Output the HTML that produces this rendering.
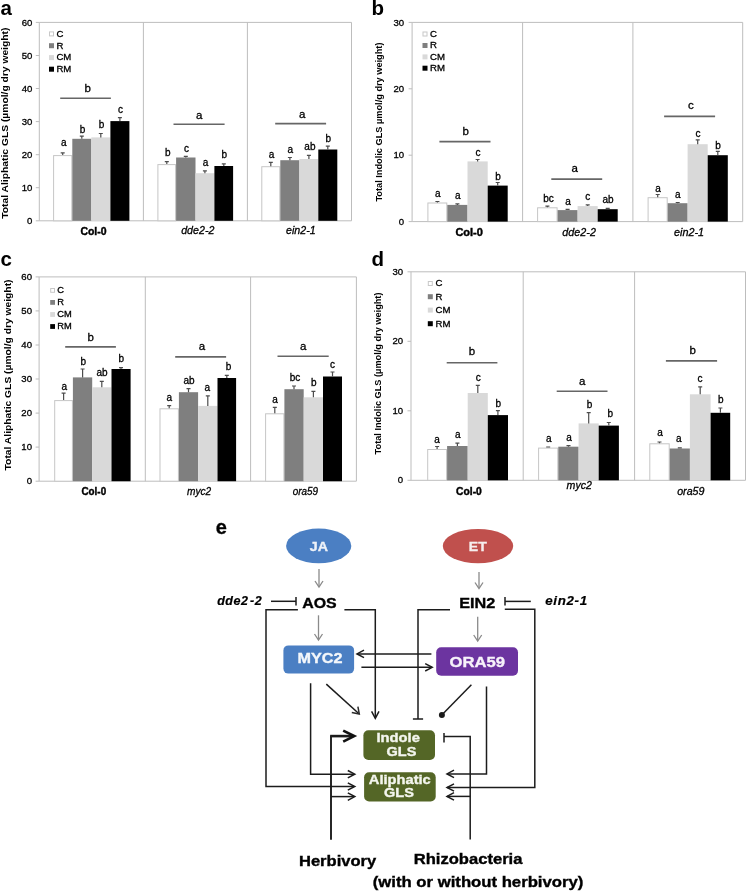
<!DOCTYPE html><html><head><meta charset="utf-8"><title>Figure</title><style>html,body{margin:0;padding:0;background:#fff;}body{width:746px;height:891px;overflow:hidden;}svg{display:block;will-change:transform;}text{font-family:"Liberation Sans",sans-serif;}</style></head><body>
<svg width="746" height="891" viewBox="0 0 746 891">
<rect width="746" height="891" fill="#fff"/>
<path d="M39.3,22.4H351.5V220.8H39.3Z" fill="none" stroke="#bdbdbd" stroke-width="1"/>
<path d="M143.4,22.4V220.8" stroke="#bdbdbd" stroke-width="1"/>
<path d="M247.4,22.4V220.8" stroke="#bdbdbd" stroke-width="1"/>
<path d="M35.8,220.8H39.3" stroke="#bdbdbd" stroke-width="1"/>
<text x="32.3" y="223.9" font-size="9.6" text-anchor="end" fill="#000" stroke="#000" stroke-width="0.3">0</text>
<path d="M35.8,187.7H39.3" stroke="#bdbdbd" stroke-width="1"/>
<text x="32.3" y="190.8" font-size="9.6" text-anchor="end" fill="#000" stroke="#000" stroke-width="0.3">10</text>
<path d="M35.8,154.7H39.3" stroke="#bdbdbd" stroke-width="1"/>
<text x="32.3" y="157.8" font-size="9.6" text-anchor="end" fill="#000" stroke="#000" stroke-width="0.3">20</text>
<path d="M35.8,121.6H39.3" stroke="#bdbdbd" stroke-width="1"/>
<text x="32.3" y="124.7" font-size="9.6" text-anchor="end" fill="#000" stroke="#000" stroke-width="0.3">30</text>
<path d="M35.8,88.5H39.3" stroke="#bdbdbd" stroke-width="1"/>
<text x="32.3" y="91.6" font-size="9.6" text-anchor="end" fill="#000" stroke="#000" stroke-width="0.3">40</text>
<path d="M35.8,55.5H39.3" stroke="#bdbdbd" stroke-width="1"/>
<text x="32.3" y="58.6" font-size="9.6" text-anchor="end" fill="#000" stroke="#000" stroke-width="0.3">50</text>
<path d="M35.8,22.4H39.3" stroke="#bdbdbd" stroke-width="1"/>
<text x="32.3" y="25.5" font-size="9.6" text-anchor="end" fill="#000" stroke="#000" stroke-width="0.3">60</text>
<rect x="53.6" y="155.6" width="18.2" height="65.2" fill="#fff" stroke="#c6c6c6" stroke-width="1"/>
<rect x="72.3" y="138.8" width="19.00" height="82.0" fill="#7f7f7f"/>
<rect x="91.3" y="137.4" width="19.10" height="83.4" fill="#d9d9d9"/>
<rect x="110.4" y="121.1" width="19.00" height="99.7" fill="#000000"/>
<path d="M62.7,155.1V152.8M60.7,152.8H64.7" stroke="#4d4d4d" stroke-width="1.2"/>
<text x="63.9" y="145.6" font-size="10" text-anchor="middle" fill="#000" stroke="#000" stroke-width="0.3">a</text>
<path d="M81.8,138.8V136.2M79.8,136.2H83.8" stroke="#4d4d4d" stroke-width="1.2"/>
<text x="82.6" y="132.8" font-size="10" text-anchor="middle" fill="#000" stroke="#000" stroke-width="0.3">b</text>
<path d="M100.8,137.4V133.5M98.8,133.5H102.8" stroke="#4d4d4d" stroke-width="1.2"/>
<text x="101.6" y="128.4" font-size="10" text-anchor="middle" fill="#000" stroke="#000" stroke-width="0.3">b</text>
<path d="M119.9,121.1V117.7M117.9,117.7H121.9" stroke="#4d4d4d" stroke-width="1.2"/>
<text x="120.6" y="112.9" font-size="10" text-anchor="middle" fill="#000" stroke="#000" stroke-width="0.3">c</text>
<path d="M60.2,98.2H110.9" stroke="#666" stroke-width="1.6"/>
<text x="87.7" y="92.3" font-size="11.5" text-anchor="middle" fill="#000" stroke="#000" stroke-width="0.3">b</text>
<text x="80.4" y="234.5" font-size="11" font-weight="bold" textLength="26.1" lengthAdjust="spacingAndGlyphs" fill="#000" stroke="#000" stroke-width="0.45">Col-0</text>
<rect x="157.9" y="164.6" width="17.7" height="56.2" fill="#fff" stroke="#c6c6c6" stroke-width="1"/>
<rect x="176.1" y="157.5" width="19.40" height="63.3" fill="#7f7f7f"/>
<rect x="195.5" y="173.2" width="18.90" height="47.6" fill="#d9d9d9"/>
<rect x="214.4" y="166.0" width="18.70" height="54.8" fill="#000000"/>
<path d="M166.8,164.1V161.6M164.8,161.6H168.8" stroke="#4d4d4d" stroke-width="1.2"/>
<text x="167.7" y="156.3" font-size="10" text-anchor="middle" fill="#000" stroke="#000" stroke-width="0.3">b</text>
<path d="M185.8,157.5V156.3M183.8,156.3H187.8" stroke="#4d4d4d" stroke-width="1.2"/>
<text x="186.6" y="152.0" font-size="10" text-anchor="middle" fill="#000" stroke="#000" stroke-width="0.3">c</text>
<path d="M204.9,173.2V170.8M202.9,170.8H206.9" stroke="#4d4d4d" stroke-width="1.2"/>
<text x="205.5" y="166.2" font-size="10" text-anchor="middle" fill="#000" stroke="#000" stroke-width="0.3">a</text>
<path d="M223.8,166.0V163.8M221.8,163.8H225.8" stroke="#4d4d4d" stroke-width="1.2"/>
<text x="224.2" y="158.4" font-size="10" text-anchor="middle" fill="#000" stroke="#000" stroke-width="0.3">b</text>
<path d="M173.5,124.2H224.6" stroke="#666" stroke-width="1.6"/>
<text x="199.1" y="118.5" font-size="11.5" text-anchor="middle" fill="#000" stroke="#000" stroke-width="0.3">a</text>
<text x="181.2" y="234.2" font-size="11" font-style="italic" textLength="33.2" lengthAdjust="spacingAndGlyphs" fill="#000" stroke="#000" stroke-width="0.3">dde2-2</text>
<rect x="261.8" y="166.7" width="18.0" height="54.1" fill="#fff" stroke="#c6c6c6" stroke-width="1"/>
<rect x="280.3" y="160.2" width="19.10" height="60.6" fill="#7f7f7f"/>
<rect x="299.4" y="159.0" width="18.90" height="61.8" fill="#d9d9d9"/>
<rect x="318.3" y="149.5" width="19.00" height="71.3" fill="#000000"/>
<path d="M270.8,166.2V162.3M268.8,162.3H272.8" stroke="#4d4d4d" stroke-width="1.2"/>
<text x="271.6" y="157.5" font-size="10" text-anchor="middle" fill="#000" stroke="#000" stroke-width="0.3">a</text>
<path d="M289.9,160.2V157.5M287.9,157.5H291.9" stroke="#4d4d4d" stroke-width="1.2"/>
<text x="290.3" y="152.7" font-size="10" text-anchor="middle" fill="#000" stroke="#000" stroke-width="0.3">a</text>
<path d="M308.9,159.0V155.3M306.9,155.3H310.9" stroke="#4d4d4d" stroke-width="1.2"/>
<text x="309.9" y="149.5" font-size="10" text-anchor="middle" fill="#000" stroke="#000" stroke-width="0.3">ab</text>
<path d="M327.8,149.5V146.2M325.8,146.2H329.8" stroke="#4d4d4d" stroke-width="1.2"/>
<text x="328.4" y="141.7" font-size="10" text-anchor="middle" fill="#000" stroke="#000" stroke-width="0.3">b</text>
<path d="M275.2,123.6H326.1" stroke="#666" stroke-width="1.6"/>
<text x="302.1" y="117.7" font-size="11.5" text-anchor="middle" fill="#000" stroke="#000" stroke-width="0.3">a</text>
<text x="286.0" y="234.2" font-size="11" font-style="italic" textLength="29.6" lengthAdjust="spacingAndGlyphs" fill="#000" stroke="#000" stroke-width="0.3">ein2-1</text>
<rect x="49.5" y="31.9" width="4" height="4" fill="#fff" stroke="#c8c8c8" stroke-width="1"/>
<text x="56.4" y="36.7" font-size="9.6" fill="#000" stroke="#000" stroke-width="0.3">C</text>
<rect x="49.0" y="43.2" width="5" height="5" fill="#7f7f7f"/>
<text x="56.4" y="48.6" font-size="9.6" fill="#000" stroke="#000" stroke-width="0.3">R</text>
<rect x="49.0" y="55.1" width="5" height="5" fill="#d9d9d9"/>
<text x="56.4" y="60.4" font-size="9.6" fill="#000" stroke="#000" stroke-width="0.3">CM</text>
<rect x="49.0" y="66.7" width="5" height="5" fill="#000000"/>
<text x="56.4" y="71.9" font-size="9.6" fill="#000" stroke="#000" stroke-width="0.3">RM</text>
<text transform="translate(7.9,218.7) rotate(-90)" font-size="9.6" font-weight="bold" textLength="191.1" lengthAdjust="spacingAndGlyphs" fill="#000">Total Aliphatic GLS (µmol/g dry weight)</text>
<text x="0.4" y="15.3" font-size="20.5" font-weight="bold" fill="#000">a</text>
<path d="M412.1,22.4H742.7V221.6H412.1Z" fill="none" stroke="#bdbdbd" stroke-width="1"/>
<path d="M522.6,22.4V221.6" stroke="#bdbdbd" stroke-width="1"/>
<path d="M632.9,22.4V221.6" stroke="#bdbdbd" stroke-width="1"/>
<path d="M408.6,221.6H412.1" stroke="#bdbdbd" stroke-width="1"/>
<text x="404.1" y="224.7" font-size="9.6" text-anchor="end" fill="#000" stroke="#000" stroke-width="0.3">0</text>
<path d="M408.6,155.2H412.1" stroke="#bdbdbd" stroke-width="1"/>
<text x="404.1" y="158.3" font-size="9.6" text-anchor="end" fill="#000" stroke="#000" stroke-width="0.3">10</text>
<path d="M408.6,88.8H412.1" stroke="#bdbdbd" stroke-width="1"/>
<text x="404.1" y="91.9" font-size="9.6" text-anchor="end" fill="#000" stroke="#000" stroke-width="0.3">20</text>
<path d="M408.6,22.4H412.1" stroke="#bdbdbd" stroke-width="1"/>
<text x="404.1" y="25.5" font-size="9.6" text-anchor="end" fill="#000" stroke="#000" stroke-width="0.3">30</text>
<rect x="427.9" y="203.0" width="18.9" height="18.6" fill="#fff" stroke="#c6c6c6" stroke-width="1"/>
<rect x="447.3" y="204.9" width="20.20" height="16.7" fill="#7f7f7f"/>
<rect x="467.5" y="161.4" width="20.20" height="60.2" fill="#d9d9d9"/>
<rect x="487.7" y="185.6" width="20.00" height="36.0" fill="#000000"/>
<path d="M437.4,202.5V201.5M435.4,201.5H439.4" stroke="#4d4d4d" stroke-width="1.2"/>
<text x="437.7" y="196.7" font-size="10" text-anchor="middle" fill="#000" stroke="#000" stroke-width="0.3">a</text>
<path d="M457.4,204.9V203.9M455.4,203.9H459.4" stroke="#4d4d4d" stroke-width="1.2"/>
<text x="457.8" y="199.1" font-size="10" text-anchor="middle" fill="#000" stroke="#000" stroke-width="0.3">a</text>
<path d="M477.6,161.4V159.5M475.6,159.5H479.6" stroke="#4d4d4d" stroke-width="1.2"/>
<text x="478.1" y="155.7" font-size="10" text-anchor="middle" fill="#000" stroke="#000" stroke-width="0.3">c</text>
<path d="M497.7,185.6V182.5M495.7,182.5H499.7" stroke="#4d4d4d" stroke-width="1.2"/>
<text x="498.0" y="179.6" font-size="10" text-anchor="middle" fill="#000" stroke="#000" stroke-width="0.3">b</text>
<path d="M439.4,141.6H490.5" stroke="#666" stroke-width="1.6"/>
<text x="465.8" y="134.9" font-size="11.5" text-anchor="middle" fill="#000" stroke="#000" stroke-width="0.3">b</text>
<text x="455.4" y="236.0" font-size="11" font-weight="bold" textLength="27.5" lengthAdjust="spacingAndGlyphs" fill="#000" stroke="#000" stroke-width="0.45">Col-0</text>
<rect x="537.6" y="207.8" width="19.5" height="13.8" fill="#fff" stroke="#c6c6c6" stroke-width="1"/>
<rect x="557.6" y="210.1" width="20.00" height="11.5" fill="#7f7f7f"/>
<rect x="577.6" y="206.1" width="20.10" height="15.5" fill="#d9d9d9"/>
<rect x="597.7" y="209.2" width="20.00" height="12.4" fill="#000000"/>
<path d="M547.4,207.3V206.1M545.4,206.1H549.4" stroke="#4d4d4d" stroke-width="1.2"/>
<text x="548.5" y="201.6" font-size="10" text-anchor="middle" fill="#000" stroke="#000" stroke-width="0.3">bc</text>
<path d="M567.6,210.1V209.4M565.6,209.4H569.6" stroke="#4d4d4d" stroke-width="1.2"/>
<text x="568.0" y="204.9" font-size="10" text-anchor="middle" fill="#000" stroke="#000" stroke-width="0.3">a</text>
<path d="M587.7,206.1V204.9M585.7,204.9H589.7" stroke="#4d4d4d" stroke-width="1.2"/>
<text x="587.7" y="200.1" font-size="10" text-anchor="middle" fill="#000" stroke="#000" stroke-width="0.3">c</text>
<path d="M607.7,209.2V208.3M605.7,208.3H609.7" stroke="#4d4d4d" stroke-width="1.2"/>
<text x="608.0" y="203.2" font-size="10" text-anchor="middle" fill="#000" stroke="#000" stroke-width="0.3">ab</text>
<path d="M551.3,179.1H602.2" stroke="#666" stroke-width="1.6"/>
<text x="574.6" y="172.4" font-size="11.5" text-anchor="middle" fill="#000" stroke="#000" stroke-width="0.3">a</text>
<text x="562.3" y="236.0" font-size="11" font-style="italic" textLength="33.6" lengthAdjust="spacingAndGlyphs" fill="#000" stroke="#000" stroke-width="0.3">dde2-2</text>
<rect x="648.1" y="197.7" width="19.1" height="23.9" fill="#fff" stroke="#c6c6c6" stroke-width="1"/>
<rect x="667.7" y="203.2" width="19.90" height="18.4" fill="#7f7f7f"/>
<rect x="687.6" y="144.2" width="20.10" height="77.4" fill="#d9d9d9"/>
<rect x="707.7" y="155.2" width="20.10" height="66.4" fill="#000000"/>
<path d="M657.7,197.2V194.5M655.7,194.5H659.7" stroke="#4d4d4d" stroke-width="1.2"/>
<text x="658.1" y="191.8" font-size="10" text-anchor="middle" fill="#000" stroke="#000" stroke-width="0.3">a</text>
<path d="M677.7,203.2V202.5M675.7,202.5H679.7" stroke="#4d4d4d" stroke-width="1.2"/>
<text x="677.9" y="197.6" font-size="10" text-anchor="middle" fill="#000" stroke="#000" stroke-width="0.3">a</text>
<path d="M697.7,144.2V139.8M695.7,139.8H699.7" stroke="#4d4d4d" stroke-width="1.2"/>
<text x="698.0" y="136.9" font-size="10" text-anchor="middle" fill="#000" stroke="#000" stroke-width="0.3">c</text>
<path d="M717.8,155.2V151.3M715.8,151.3H719.8" stroke="#4d4d4d" stroke-width="1.2"/>
<text x="718.1" y="148.5" font-size="10" text-anchor="middle" fill="#000" stroke="#000" stroke-width="0.3">b</text>
<path d="M664.1,116.4H715.1" stroke="#666" stroke-width="1.6"/>
<text x="690.9" y="109.4" font-size="11.5" text-anchor="middle" fill="#000" stroke="#000" stroke-width="0.3">c</text>
<text x="674.0" y="236.0" font-size="11" font-style="italic" textLength="30.0" lengthAdjust="spacingAndGlyphs" fill="#000" stroke="#000" stroke-width="0.3">ein2-1</text>
<rect x="423.0" y="32.0" width="4" height="4" fill="#fff" stroke="#c8c8c8" stroke-width="1"/>
<text x="430.1" y="36.7" font-size="9.6" fill="#000" stroke="#000" stroke-width="0.3">C</text>
<rect x="422.5" y="43.0" width="5" height="5" fill="#7f7f7f"/>
<text x="430.1" y="48.1" font-size="9.6" fill="#000" stroke="#000" stroke-width="0.3">R</text>
<rect x="422.5" y="54.4" width="5" height="5" fill="#d9d9d9"/>
<text x="430.1" y="59.5" font-size="9.6" fill="#000" stroke="#000" stroke-width="0.3">CM</text>
<rect x="422.5" y="65.7" width="5" height="5" fill="#000000"/>
<text x="430.1" y="70.6" font-size="9.6" fill="#000" stroke="#000" stroke-width="0.3">RM</text>
<text transform="translate(382.1,201.6) rotate(-90)" font-size="9.6" font-weight="bold" textLength="159.1" lengthAdjust="spacingAndGlyphs" fill="#000">Total Indolic GLS µmol/g dry weight)</text>
<text x="371.4" y="15.3" font-size="20.5" font-weight="bold" fill="#000">b</text>
<path d="M39.1,276.9H356.4V481.2H39.1Z" fill="none" stroke="#bdbdbd" stroke-width="1"/>
<path d="M145.3,276.9V481.2" stroke="#bdbdbd" stroke-width="1"/>
<path d="M250.6,276.9V481.2" stroke="#bdbdbd" stroke-width="1"/>
<path d="M35.6,481.2H39.1" stroke="#bdbdbd" stroke-width="1"/>
<text x="32.0" y="484.3" font-size="9.6" text-anchor="end" fill="#000" stroke="#000" stroke-width="0.3">0</text>
<path d="M35.6,447.1H39.1" stroke="#bdbdbd" stroke-width="1"/>
<text x="32.0" y="450.2" font-size="9.6" text-anchor="end" fill="#000" stroke="#000" stroke-width="0.3">10</text>
<path d="M35.6,413.1H39.1" stroke="#bdbdbd" stroke-width="1"/>
<text x="32.0" y="416.2" font-size="9.6" text-anchor="end" fill="#000" stroke="#000" stroke-width="0.3">20</text>
<path d="M35.6,379.0H39.1" stroke="#bdbdbd" stroke-width="1"/>
<text x="32.0" y="382.1" font-size="9.6" text-anchor="end" fill="#000" stroke="#000" stroke-width="0.3">30</text>
<path d="M35.6,345.0H39.1" stroke="#bdbdbd" stroke-width="1"/>
<text x="32.0" y="348.1" font-size="9.6" text-anchor="end" fill="#000" stroke="#000" stroke-width="0.3">40</text>
<path d="M35.6,310.9H39.1" stroke="#bdbdbd" stroke-width="1"/>
<text x="32.0" y="314.1" font-size="9.6" text-anchor="end" fill="#000" stroke="#000" stroke-width="0.3">50</text>
<path d="M35.6,276.9H39.1" stroke="#bdbdbd" stroke-width="1"/>
<text x="32.0" y="280.0" font-size="9.6" text-anchor="end" fill="#000" stroke="#000" stroke-width="0.3">60</text>
<rect x="54.7" y="400.6" width="17.7" height="80.6" fill="#fff" stroke="#c6c6c6" stroke-width="1"/>
<rect x="72.9" y="377.4" width="19.30" height="103.8" fill="#7f7f7f"/>
<rect x="92.2" y="387.3" width="19.30" height="93.9" fill="#d9d9d9"/>
<rect x="111.5" y="369.0" width="19.10" height="112.2" fill="#000000"/>
<path d="M63.6,400.1V393.1M61.6,393.1H65.6" stroke="#4d4d4d" stroke-width="1.2"/>
<text x="64.2" y="389.5" font-size="10" text-anchor="middle" fill="#000" stroke="#000" stroke-width="0.3">a</text>
<path d="M82.6,377.4V369.0M80.6,369.0H84.6" stroke="#4d4d4d" stroke-width="1.2"/>
<text x="83.2" y="365.3" font-size="10" text-anchor="middle" fill="#000" stroke="#000" stroke-width="0.3">b</text>
<path d="M101.8,387.3V381.3M99.8,381.3H103.8" stroke="#4d4d4d" stroke-width="1.2"/>
<text x="102.1" y="376.0" font-size="10" text-anchor="middle" fill="#000" stroke="#000" stroke-width="0.3">ab</text>
<path d="M121.0,369.0V367.7M119.0,367.7H123.0" stroke="#4d4d4d" stroke-width="1.2"/>
<text x="121.2" y="361.7" font-size="10" text-anchor="middle" fill="#000" stroke="#000" stroke-width="0.3">b</text>
<path d="M65.2,346.9H115.9" stroke="#666" stroke-width="1.6"/>
<text x="90.6" y="340.7" font-size="11.5" text-anchor="middle" fill="#000" stroke="#000" stroke-width="0.3">b</text>
<text x="81.5" y="495.0" font-size="11" font-weight="bold" textLength="24.6" lengthAdjust="spacingAndGlyphs" fill="#000" stroke="#000" stroke-width="0.45">Col-0</text>
<rect x="160.0" y="408.8" width="18.4" height="72.4" fill="#fff" stroke="#c6c6c6" stroke-width="1"/>
<rect x="178.9" y="392.2" width="19.20" height="89.0" fill="#7f7f7f"/>
<rect x="198.1" y="405.9" width="19.40" height="75.3" fill="#d9d9d9"/>
<rect x="217.5" y="378.0" width="18.60" height="103.2" fill="#000000"/>
<path d="M169.2,408.3V405.7M167.2,405.7H171.2" stroke="#4d4d4d" stroke-width="1.2"/>
<text x="169.2" y="400.7" font-size="10" text-anchor="middle" fill="#000" stroke="#000" stroke-width="0.3">a</text>
<path d="M188.5,392.2V388.6M186.5,388.6H190.5" stroke="#4d4d4d" stroke-width="1.2"/>
<text x="189.0" y="384.0" font-size="10" text-anchor="middle" fill="#000" stroke="#000" stroke-width="0.3">ab</text>
<path d="M207.8,405.9V395.8M205.8,395.8H209.8" stroke="#4d4d4d" stroke-width="1.2"/>
<text x="207.2" y="390.8" font-size="10" text-anchor="middle" fill="#000" stroke="#000" stroke-width="0.3">a</text>
<path d="M226.8,378.0V375.3M224.8,375.3H228.8" stroke="#4d4d4d" stroke-width="1.2"/>
<text x="228.6" y="369.5" font-size="10" text-anchor="middle" fill="#000" stroke="#000" stroke-width="0.3">b</text>
<path d="M175.2,356.9H226.1" stroke="#666" stroke-width="1.6"/>
<text x="202.0" y="349.6" font-size="11.5" text-anchor="middle" fill="#000" stroke="#000" stroke-width="0.3">a</text>
<text x="187.0" y="495.0" font-size="11" font-style="italic" textLength="24.2" lengthAdjust="spacingAndGlyphs" fill="#000" stroke="#000" stroke-width="0.3">myc2</text>
<rect x="265.6" y="413.8" width="18.3" height="67.4" fill="#fff" stroke="#c6c6c6" stroke-width="1"/>
<rect x="284.4" y="389.2" width="19.30" height="92.0" fill="#7f7f7f"/>
<rect x="303.7" y="397.3" width="19.30" height="83.9" fill="#d9d9d9"/>
<rect x="323.0" y="376.5" width="19.00" height="104.7" fill="#000000"/>
<path d="M274.8,413.3V407.3M272.8,407.3H276.8" stroke="#4d4d4d" stroke-width="1.2"/>
<text x="275.1" y="402.5" font-size="10" text-anchor="middle" fill="#000" stroke="#000" stroke-width="0.3">a</text>
<path d="M294.0,389.2V386.0M292.0,386.0H296.0" stroke="#4d4d4d" stroke-width="1.2"/>
<text x="295.0" y="381.4" font-size="10" text-anchor="middle" fill="#000" stroke="#000" stroke-width="0.3">bc</text>
<path d="M313.4,397.3V391.3M311.4,391.3H315.4" stroke="#4d4d4d" stroke-width="1.2"/>
<text x="313.7" y="386.2" font-size="10" text-anchor="middle" fill="#000" stroke="#000" stroke-width="0.3">b</text>
<path d="M332.5,376.5V372.0M330.5,372.0H334.5" stroke="#4d4d4d" stroke-width="1.2"/>
<text x="332.4" y="367.9" font-size="10" text-anchor="middle" fill="#000" stroke="#000" stroke-width="0.3">c</text>
<path d="M277.5,356.3H328.7" stroke="#666" stroke-width="1.6"/>
<text x="303.1" y="349.5" font-size="11.5" text-anchor="middle" fill="#000" stroke="#000" stroke-width="0.3">a</text>
<text x="292.7" y="495.0" font-size="11" font-style="italic" textLength="25.3" lengthAdjust="spacingAndGlyphs" fill="#000" stroke="#000" stroke-width="0.3">ora59</text>
<rect x="50.7" y="288.5" width="3.8" height="3.8" fill="#fff" stroke="#c8c8c8" stroke-width="1"/>
<text x="57.3" y="293.1" font-size="9.3" fill="#000" stroke="#000" stroke-width="0.3">C</text>
<rect x="50.2" y="300.0" width="4.8" height="4.8" fill="#7f7f7f"/>
<text x="57.3" y="305.1" font-size="9.3" fill="#000" stroke="#000" stroke-width="0.3">R</text>
<rect x="50.2" y="312.1" width="4.8" height="4.8" fill="#d9d9d9"/>
<text x="57.3" y="317.2" font-size="9.3" fill="#000" stroke="#000" stroke-width="0.3">CM</text>
<rect x="50.2" y="324.1" width="4.8" height="4.8" fill="#000000"/>
<text x="57.3" y="329.2" font-size="9.3" fill="#000" stroke="#000" stroke-width="0.3">RM</text>
<text transform="translate(11.2,470.4) rotate(-90)" font-size="9.6" font-weight="bold" textLength="190.9" lengthAdjust="spacingAndGlyphs" fill="#000">Total Aliphatic GLS (µmol/g dry weight)</text>
<text x="0.4" y="266.2" font-size="20.5" font-weight="bold" fill="#000">c</text>
<path d="M411.0,271.8H745.5V480.3H411.0Z" fill="none" stroke="#bdbdbd" stroke-width="1"/>
<path d="M523.2,271.8V480.3" stroke="#bdbdbd" stroke-width="1"/>
<path d="M634.6,271.8V480.3" stroke="#bdbdbd" stroke-width="1"/>
<path d="M407.5,480.3H411.0" stroke="#bdbdbd" stroke-width="1"/>
<text x="403.2" y="483.4" font-size="9.6" text-anchor="end" fill="#000" stroke="#000" stroke-width="0.3">0</text>
<path d="M407.5,410.8H411.0" stroke="#bdbdbd" stroke-width="1"/>
<text x="403.2" y="413.9" font-size="9.6" text-anchor="end" fill="#000" stroke="#000" stroke-width="0.3">10</text>
<path d="M407.5,341.3H411.0" stroke="#bdbdbd" stroke-width="1"/>
<text x="403.2" y="344.4" font-size="9.6" text-anchor="end" fill="#000" stroke="#000" stroke-width="0.3">20</text>
<path d="M407.5,271.8H411.0" stroke="#bdbdbd" stroke-width="1"/>
<text x="403.2" y="274.9" font-size="9.6" text-anchor="end" fill="#000" stroke="#000" stroke-width="0.3">30</text>
<rect x="427.7" y="449.5" width="18.9" height="30.8" fill="#fff" stroke="#c6c6c6" stroke-width="1"/>
<rect x="447.1" y="446.0" width="20.60" height="34.3" fill="#7f7f7f"/>
<rect x="467.7" y="393.0" width="20.10" height="87.3" fill="#d9d9d9"/>
<rect x="487.8" y="415.1" width="20.20" height="65.2" fill="#000000"/>
<path d="M437.1,449.0V446.5M435.1,446.5H439.1" stroke="#4d4d4d" stroke-width="1.2"/>
<text x="437.1" y="442.6" font-size="10" text-anchor="middle" fill="#000" stroke="#000" stroke-width="0.3">a</text>
<path d="M457.4,446.0V443.2M455.4,443.2H459.4" stroke="#4d4d4d" stroke-width="1.2"/>
<text x="457.8" y="437.7" font-size="10" text-anchor="middle" fill="#000" stroke="#000" stroke-width="0.3">a</text>
<path d="M477.8,393.0V385.4M475.8,385.4H479.8" stroke="#4d4d4d" stroke-width="1.2"/>
<text x="478.2" y="380.5" font-size="10" text-anchor="middle" fill="#000" stroke="#000" stroke-width="0.3">c</text>
<path d="M497.9,415.1V410.7M495.9,410.7H499.9" stroke="#4d4d4d" stroke-width="1.2"/>
<text x="498.3" y="406.8" font-size="10" text-anchor="middle" fill="#000" stroke="#000" stroke-width="0.3">b</text>
<path d="M446.7,362.7H497.4" stroke="#666" stroke-width="1.6"/>
<text x="472.0" y="354.9" font-size="11.5" text-anchor="middle" fill="#000" stroke="#000" stroke-width="0.3">b</text>
<text x="456.1" y="494.5" font-size="11" font-weight="bold" textLength="25.7" lengthAdjust="spacingAndGlyphs" fill="#000" stroke="#000" stroke-width="0.45">Col-0</text>
<rect x="538.6" y="448.1" width="19.2" height="32.2" fill="#fff" stroke="#c6c6c6" stroke-width="1"/>
<rect x="558.3" y="446.7" width="20.30" height="33.6" fill="#7f7f7f"/>
<rect x="578.6" y="423.4" width="20.10" height="56.9" fill="#d9d9d9"/>
<rect x="598.7" y="425.6" width="20.20" height="54.7" fill="#000000"/>
<path d="M548.2,447.6V447.0M546.2,447.0H550.2" stroke="#4d4d4d" stroke-width="1.2"/>
<text x="548.9" y="442.1" font-size="10" text-anchor="middle" fill="#000" stroke="#000" stroke-width="0.3">a</text>
<path d="M568.5,446.7V445.7M566.5,445.7H570.5" stroke="#4d4d4d" stroke-width="1.2"/>
<text x="569.0" y="440.9" font-size="10" text-anchor="middle" fill="#000" stroke="#000" stroke-width="0.3">a</text>
<path d="M588.7,423.4V412.6M586.7,412.6H590.7" stroke="#4d4d4d" stroke-width="1.2"/>
<text x="589.5" y="408.4" font-size="10" text-anchor="middle" fill="#000" stroke="#000" stroke-width="0.3">b</text>
<path d="M608.8,425.6V422.5M606.8,422.5H610.8" stroke="#4d4d4d" stroke-width="1.2"/>
<text x="610.2" y="417.2" font-size="10" text-anchor="middle" fill="#000" stroke="#000" stroke-width="0.3">b</text>
<path d="M556.7,391.3H607.5" stroke="#666" stroke-width="1.6"/>
<text x="582.1" y="384.7" font-size="11.5" text-anchor="middle" fill="#000" stroke="#000" stroke-width="0.3">a</text>
<text x="566.6" y="488.7" font-size="11" font-style="italic" textLength="25.3" lengthAdjust="spacingAndGlyphs" fill="#000" stroke="#000" stroke-width="0.3">myc2</text>
<rect x="649.8" y="443.8" width="19.4" height="36.5" fill="#fff" stroke="#c6c6c6" stroke-width="1"/>
<rect x="669.7" y="448.5" width="20.20" height="31.8" fill="#7f7f7f"/>
<rect x="689.9" y="394.3" width="20.70" height="86.0" fill="#d9d9d9"/>
<rect x="710.6" y="412.8" width="19.60" height="67.5" fill="#000000"/>
<path d="M659.5,443.3V442.0M657.5,442.0H661.5" stroke="#4d4d4d" stroke-width="1.2"/>
<text x="660.1" y="436.3" font-size="10" text-anchor="middle" fill="#000" stroke="#000" stroke-width="0.3">a</text>
<path d="M679.8,448.5V447.8M677.8,447.8H681.8" stroke="#4d4d4d" stroke-width="1.2"/>
<text x="678.7" y="441.7" font-size="10" text-anchor="middle" fill="#000" stroke="#000" stroke-width="0.3">a</text>
<path d="M700.2,394.3V386.8M698.2,386.8H702.2" stroke="#4d4d4d" stroke-width="1.2"/>
<text x="700.0" y="381.8" font-size="10" text-anchor="middle" fill="#000" stroke="#000" stroke-width="0.3">c</text>
<path d="M720.4,412.8V408.0M718.4,408.0H722.4" stroke="#4d4d4d" stroke-width="1.2"/>
<text x="720.7" y="402.7" font-size="10" text-anchor="middle" fill="#000" stroke="#000" stroke-width="0.3">b</text>
<path d="M665.9,360.9H717.1" stroke="#666" stroke-width="1.6"/>
<text x="692.8" y="354.1" font-size="11.5" text-anchor="middle" fill="#000" stroke="#000" stroke-width="0.3">b</text>
<text x="677.2" y="494.5" font-size="11" font-style="italic" textLength="27.3" lengthAdjust="spacingAndGlyphs" fill="#000" stroke="#000" stroke-width="0.3">ora59</text>
<rect x="428.3" y="281.5" width="4" height="4" fill="#fff" stroke="#c8c8c8" stroke-width="1"/>
<text x="435.5" y="286.1" font-size="9.6" fill="#000" stroke="#000" stroke-width="0.3">C</text>
<rect x="427.8" y="294.2" width="5" height="5" fill="#7f7f7f"/>
<text x="435.5" y="299.7" font-size="9.6" fill="#000" stroke="#000" stroke-width="0.3">R</text>
<rect x="427.8" y="307.6" width="5" height="5" fill="#d9d9d9"/>
<text x="435.5" y="312.9" font-size="9.6" fill="#000" stroke="#000" stroke-width="0.3">CM</text>
<rect x="427.8" y="321.2" width="5" height="5" fill="#000000"/>
<text x="435.5" y="326.6" font-size="9.6" fill="#000" stroke="#000" stroke-width="0.3">RM</text>
<text transform="translate(381.0,454.4) rotate(-90)" font-size="9.6" font-weight="bold" textLength="161.9" lengthAdjust="spacingAndGlyphs" fill="#000">Total Indolic GLS (µmol/g dry weight)</text>
<text x="371.4" y="265.9" font-size="20.5" font-weight="bold" fill="#000">d</text>
<text x="215.8" y="534.0" font-size="20" font-weight="bold" fill="#000" stroke="#000" stroke-width="0.3">e</text>
<ellipse cx="318.7" cy="545.9" rx="32.6" ry="17.3" fill="#4b7fc3"/>
<text x="309.8" y="551.2" font-size="12.5" font-weight="bold" textLength="18.1" lengthAdjust="spacingAndGlyphs" fill="#eef2f8" stroke="#eef2f8" stroke-width="0.35">JA</text>
<ellipse cx="478.0" cy="546.1" rx="35.2" ry="17.1" fill="#c0504d"/>
<text x="468.8" y="551.2" font-size="12.5" font-weight="bold" textLength="17.9" lengthAdjust="spacingAndGlyphs" fill="#f6eeee" stroke="#f6eeee" stroke-width="0.35">ET</text>
<path d="M319,569V586.5" fill="none" stroke="#8a8a8a" stroke-width="1.3"/>
<path d="M315,581L319,587L323,581" fill="none" stroke="#8a8a8a" stroke-width="1.3" stroke-linejoin="miter"/>
<path d="M479,572V588" fill="none" stroke="#8a8a8a" stroke-width="1.3"/>
<path d="M475,582.5L479,588.5L483,582.5" fill="none" stroke="#8a8a8a" stroke-width="1.3" stroke-linejoin="miter"/>
<path d="M318.5,615.3V639.5" fill="none" stroke="#8a8a8a" stroke-width="1.3"/>
<path d="M314.5,634L318.5,640L322.5,634" fill="none" stroke="#8a8a8a" stroke-width="1.3" stroke-linejoin="miter"/>
<path d="M477.7,616.8V640.5" fill="none" stroke="#8a8a8a" stroke-width="1.3"/>
<path d="M473.7,635L477.7,641L481.7,635" fill="none" stroke="#8a8a8a" stroke-width="1.3" stroke-linejoin="miter"/>
<text x="302.2" y="607.8" font-size="14.5" font-weight="bold" textLength="34.5" lengthAdjust="spacingAndGlyphs" fill="#000" stroke="#000" stroke-width="0.35">AOS</text>
<text x="459.2" y="608.1" font-size="14.5" font-weight="bold" textLength="36.1" lengthAdjust="spacingAndGlyphs" fill="#000" stroke="#000" stroke-width="0.35">EIN2</text>
<text x="217.2" y="604.8" font-size="12.4" font-weight="bold" font-style="italic" textLength="45" lengthAdjust="spacingAndGlyphs" letter-spacing="0.5" fill="#000" stroke="#000" stroke-width="0.2">dde2<tspan dx="1.5">-</tspan>2</text>
<text x="545.3" y="605.3" font-size="12.3" font-weight="bold" font-style="italic" textLength="42.5" lengthAdjust="spacingAndGlyphs" letter-spacing="0.6" fill="#000" stroke="#000" stroke-width="0.2">ein2-1</text>
<path d="M271,601.3H296" fill="none" stroke="#1c1c1c" stroke-width="1.5"/>
<path d="M296,597V605.5" fill="none" stroke="#1c1c1c" stroke-width="1.5"/>
<path d="M530.8,601.4H505" fill="none" stroke="#1c1c1c" stroke-width="1.5"/>
<path d="M505,597V605.5" fill="none" stroke="#1c1c1c" stroke-width="1.5"/>
<rect x="283.4" y="645.4" width="70.7" height="28.2" rx="5" fill="#4b7fc3"/>
<text x="297.5" y="663.4" font-size="14.5" font-weight="bold" textLength="45.0" lengthAdjust="spacingAndGlyphs" fill="#f4f7fb" stroke="#f4f7fb" stroke-width="0.35">MYC2</text>
<rect x="436.2" y="647.3" width="81.8" height="28.4" rx="5" fill="#6c34a0"/>
<text x="449.6" y="666.5" font-size="14.5" font-weight="bold" textLength="55.5" lengthAdjust="spacingAndGlyphs" fill="#f7f2fa" stroke="#f7f2fa" stroke-width="0.35">ORA59</text>
<rect x="363.4" y="730.2" width="71.6" height="29.7" rx="5" fill="#546626"/>
<text x="376.5" y="742.0" font-size="12.3" font-weight="bold" textLength="43.4" lengthAdjust="spacingAndGlyphs" fill="#f4f6ee" stroke="#f4f6ee" stroke-width="0.35">Indole</text>
<text x="386.5" y="755.5" font-size="12.3" font-weight="bold" textLength="29.8" lengthAdjust="spacingAndGlyphs" fill="#f4f6ee" stroke="#f4f6ee" stroke-width="0.35">GLS</text>
<rect x="364.1" y="772.2" width="71.6" height="29.2" rx="5" fill="#546626"/>
<text x="368.8" y="784.4" font-size="12.3" font-weight="bold" textLength="62.0" lengthAdjust="spacingAndGlyphs" fill="#f4f6ee" stroke="#f4f6ee" stroke-width="0.35">Aliphatic</text>
<text x="384.1" y="796.5" font-size="12.3" font-weight="bold" textLength="29.8" lengthAdjust="spacingAndGlyphs" fill="#f4f6ee" stroke="#f4f6ee" stroke-width="0.35">GLS</text>
<path d="M297.9,609.8H266V786.5H354" fill="none" stroke="#1c1c1c" stroke-width="1.5"/>
<path d="M347.8,782.8L354.8,786.5L347.8,790.2" fill="none" stroke="#1c1c1c" stroke-width="1.5" stroke-linejoin="miter"/>
<path d="M344.4,609.8H375.3V718" fill="none" stroke="#1c1c1c" stroke-width="1.5"/>
<path d="M371.6,711.3L375.3,718.3L379.0,711.3" fill="none" stroke="#1c1c1c" stroke-width="1.5" stroke-linejoin="miter"/>
<path d="M450,609.8H418V719" fill="none" stroke="#1c1c1c" stroke-width="1.5"/>
<path d="M412.9,719H423.1" fill="none" stroke="#1c1c1c" stroke-width="1.5"/>
<path d="M504.8,609.3H534.8V787.5H447" fill="none" stroke="#1c1c1c" stroke-width="1.5"/>
<path d="M454.0,783.8L447,787.5L454.0,791.2" fill="none" stroke="#1c1c1c" stroke-width="1.5" stroke-linejoin="miter"/>
<path d="M431.4,653.9H357.5" fill="none" stroke="#1c1c1c" stroke-width="1.5"/>
<path d="M364.0,650.1999999999999L357,653.9L364.0,657.6" fill="none" stroke="#1c1c1c" stroke-width="1.5" stroke-linejoin="miter"/>
<path d="M361.4,667.3H432" fill="none" stroke="#1c1c1c" stroke-width="1.5"/>
<path d="M425.2,663.5999999999999L432.2,667.3L425.2,671.0" fill="none" stroke="#1c1c1c" stroke-width="1.5" stroke-linejoin="miter"/>
<path d="M310.6,683.2V774.2H354" fill="none" stroke="#1c1c1c" stroke-width="1.5"/>
<path d="M347.8,770.5L354.8,774.2L347.8,777.9000000000001" fill="none" stroke="#1c1c1c" stroke-width="1.5" stroke-linejoin="miter"/>
<path d="M326.3,684.1L359,713.8" fill="none" stroke="#1c1c1c" stroke-width="1.5"/>
<path d="M351.8,712.6L359.3,714.1L357.9,706.6" fill="none" stroke="#2b2b2b" stroke-width="1.5"/>
<path d="M471.4,684.7L443,713.8" fill="none" stroke="#1c1c1c" stroke-width="1.5"/>
<circle cx="441.9" cy="715.0" r="3.0" fill="#1a1a1a"/>
<path d="M486.5,686.6V773.9H447" fill="none" stroke="#1c1c1c" stroke-width="1.5"/>
<path d="M454.0,770.1999999999999L447,773.9L454.0,777.6" fill="none" stroke="#1c1c1c" stroke-width="1.5" stroke-linejoin="miter"/>
<path d="M331,839.8V736.1" fill="none" stroke="#1c1c1c" stroke-width="1.9"/>
<path d="M330.1,736.1H353" fill="none" stroke="#1c1c1c" stroke-width="2.6"/>
<path d="M343.2,730.6L354.2,736.1L343.2,741.6" fill="none" stroke="#111" stroke-width="2.7"/>
<path d="M331,796.6H354" fill="none" stroke="#1c1c1c" stroke-width="1.5"/>
<path d="M347.8,792.9L354.8,796.6L347.8,800.3000000000001" fill="none" stroke="#1c1c1c" stroke-width="1.5" stroke-linejoin="miter"/>
<path d="M470.2,839.6V736.4H444" fill="none" stroke="#1c1c1c" stroke-width="1.5"/>
<path d="M444,733V742.5" fill="none" stroke="#1c1c1c" stroke-width="1.5"/>
<path d="M470.2,796.4H447" fill="none" stroke="#1c1c1c" stroke-width="1.5"/>
<path d="M454.0,792.6999999999999L447,796.4L454.0,800.1" fill="none" stroke="#1c1c1c" stroke-width="1.5" stroke-linejoin="miter"/>
<text x="299.0" y="866.1" font-size="14" font-weight="bold" textLength="77.1" lengthAdjust="spacingAndGlyphs" fill="#000" stroke="#000" stroke-width="0.35">Herbivory</text>
<text x="413.8" y="863.7" font-size="14" font-weight="bold" textLength="108.6" lengthAdjust="spacingAndGlyphs" fill="#000" stroke="#000" stroke-width="0.35">Rhizobacteria</text>
<text x="372.8" y="886.6" font-size="14" font-weight="bold" textLength="210.5" lengthAdjust="spacingAndGlyphs" fill="#000" stroke="#000" stroke-width="0.35">(with or without herbivory)</text>
</svg></body></html>
